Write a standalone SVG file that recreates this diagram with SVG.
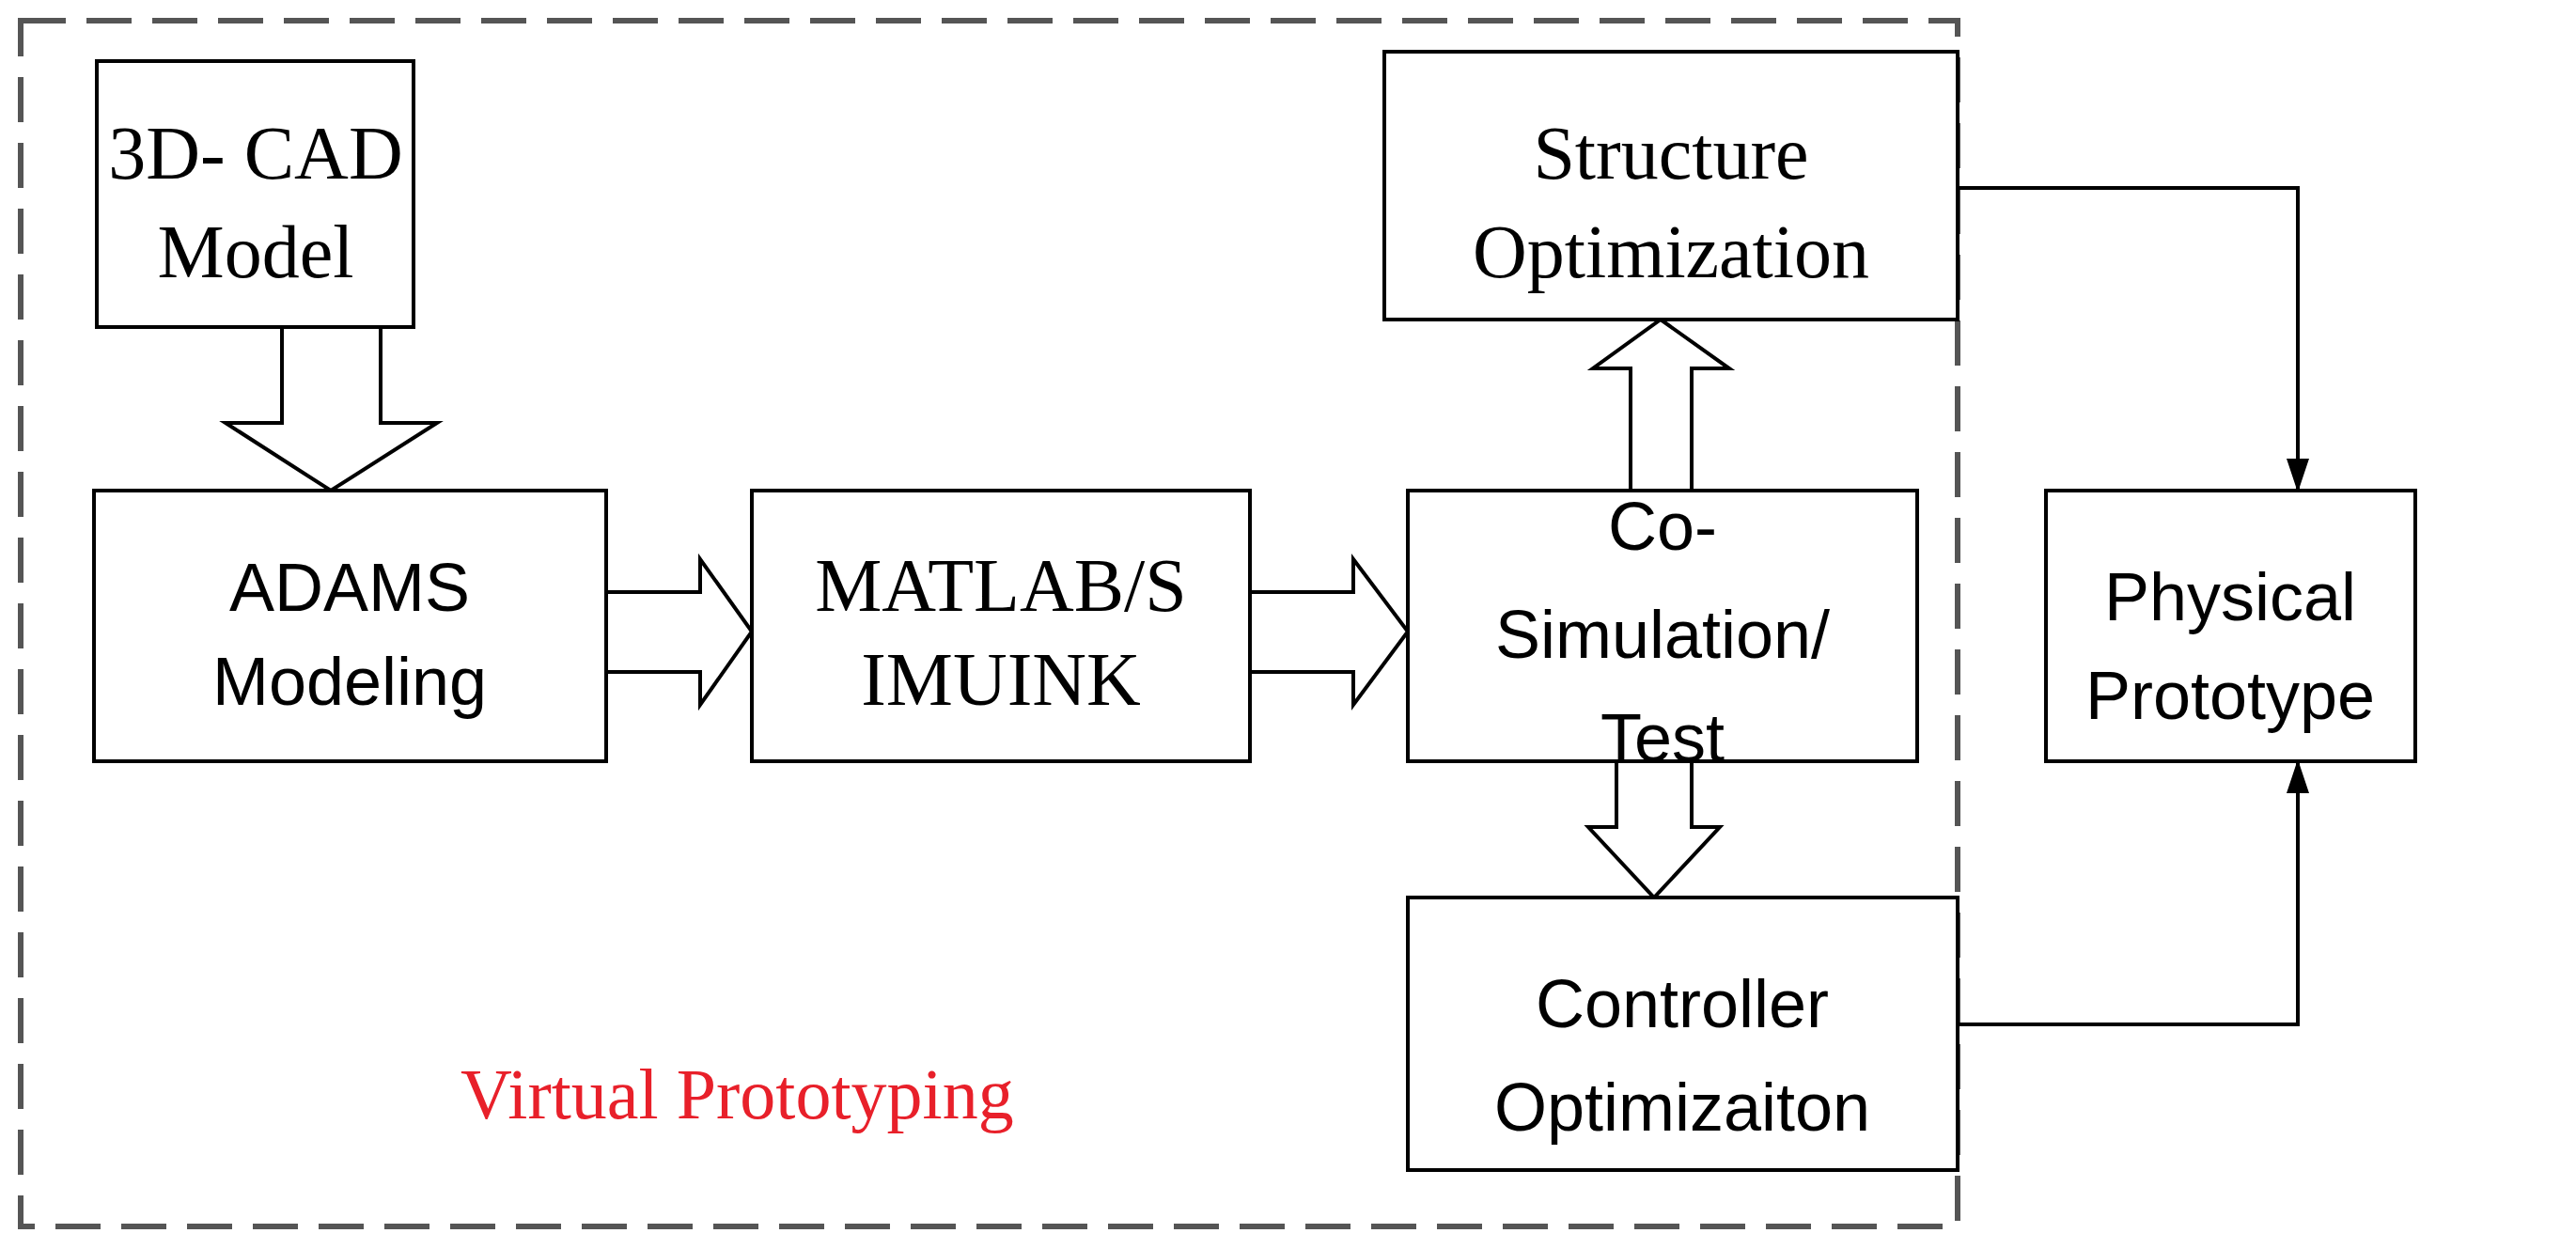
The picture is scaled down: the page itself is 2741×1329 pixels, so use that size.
<svg xmlns="http://www.w3.org/2000/svg" width="2741" height="1329" viewBox="0 0 2741 1329">
<style>
.box{fill:#fff;stroke:#000;stroke-width:4}
.hol{fill:#fff;stroke:#000;stroke-width:4;stroke-linejoin:miter}
.se{font-family:"Liberation Serif",serif;font-size:80px;text-anchor:middle}
.sa{font-family:"Liberation Sans",sans-serif;font-size:72px;text-anchor:middle}
.ln{fill:none;stroke:#000;stroke-width:4}
</style>
<defs><marker id="ah" markerWidth="10" markerHeight="10" refX="9" refY="5" orient="auto" markerUnits="userSpaceOnUse" viewBox="0 0 10 10"><path d="M0,0 L10,5 L0,10 z" fill="#000"/></marker>
<marker id="ah2" markerWidth="36" markerHeight="36" refX="34" refY="18" orient="auto" markerUnits="userSpaceOnUse"><path d="M0,6 L36,18 L0,30 z" fill="#000"/></marker></defs>
<rect x="22" y="22" width="2061" height="1283" fill="none" stroke="#555" stroke-width="6" stroke-dasharray="48,22"/>
<g id="connectors">
<path class="hol" d="M300,348 L405,348 L405,450 L465,450 L352,522 L240,450 L300,450 Z"/>
<path class="hol" d="M645,630 L745,630 L745,595 L800,672 L745,750 L745,715 L645,715 Z"/>
<path class="hol" d="M1330,630 L1440,630 L1440,595 L1498,672 L1440,750 L1440,715 L1330,715 Z"/>
<path class="hol" d="M1735,522 L1735,392 L1695,392 L1767,340 L1840,392 L1800,392 L1800,522 Z"/>
<path class="hol" d="M1720,810 L1720,880 L1690,880 L1760,955 L1830,880 L1800,880 L1800,810 Z"/>
<path class="ln" d="M2083,200 L2445,200 L2445,522" marker-end="url(#ah2)"/>
<path class="ln" d="M2083,1090 L2445,1090 L2445,810" marker-end="url(#ah2)"/>
</g>
<g id="cad"><rect class="box" x="103" y="65" width="337" height="283"/><text class="se" x="272" y="190">3D- CAD</text><text class="se" x="272" y="295">Model</text></g>
<g id="adams"><rect class="box" x="100" y="522" width="545" height="288"/><text class="sa" x="372" y="650">ADAMS</text><text class="sa" x="372" y="750">Modeling</text></g>
<g id="matlab"><rect class="box" x="800" y="522" width="530" height="288"/><text class="se" x="1065" y="650">MATLAB/S</text><text class="se" x="1065" y="750">IMUINK</text></g>
<g id="cosim"><rect class="box" x="1498" y="522" width="542" height="288"/><text class="sa" x="1769" y="585">Co-</text><text class="sa" x="1769" y="700">Simulation/</text><text class="sa" x="1769" y="810">Test</text></g>
<g id="structure"><rect class="box" x="1473" y="55" width="610" height="285"/><text class="se" x="1778" y="190">Structure</text><text class="se" x="1778" y="295">Optimization</text></g>
<g id="controller"><rect class="box" x="1498" y="955" width="585" height="290"/><text class="sa" x="1790" y="1093">Controller</text><text class="sa" x="1790" y="1203">Optimizaiton</text></g>
<g id="physical"><rect class="box" x="2177" y="522" width="393" height="288"/><text class="sa" x="2373" y="660">Physical</text><text class="sa" x="2373" y="765">Prototype</text></g>
<text x="490" y="1190" font-family="Liberation Serif,serif" font-size="76" fill="#e8202a">Virtual  Prototyping</text>
</svg>
